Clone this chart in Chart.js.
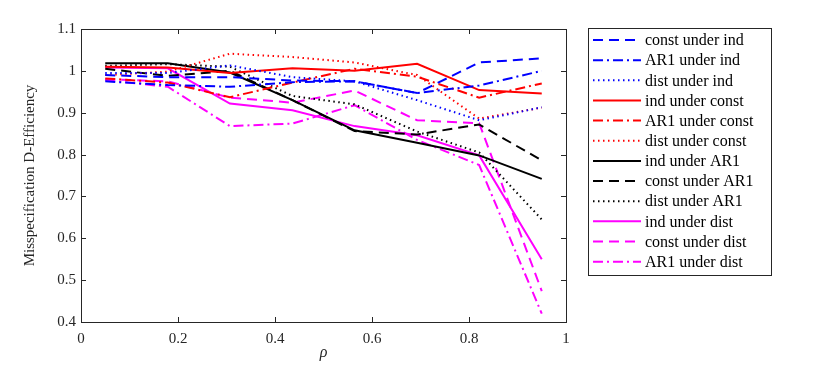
<!DOCTYPE html>
<html><head><meta charset="utf-8">
<script src="https://cdn.jsdelivr.net/npm/chart.js@4/dist/chart.umd.min.js"></script>
<style>html,body{margin:0;padding:0;background:#fff}#wrap{width:830px;height:370px}</style>
</head><body><div id="wrap"><canvas id="c" width="830" height="370"></canvas></div>
<script>
// rho values (x)
const rho = [0.05, 0.179, 0.307, 0.436, 0.564, 0.693, 0.821, 0.95];
// series
const constUnderInd  = [0.990, 0.985, 0.985, 0.977, 0.975, 0.947, 1.020, 1.030];
const ar1UnderInd    = [0.975, 0.966, 0.962, 0.973, 0.975, 0.947, 0.965, 1.000];
const distUnderInd   = [0.995, 0.995, 1.013, 0.985, 0.975, 0.930, 0.882, 0.913];
const indUnderConst  = [1.010, 1.008, 0.995, 1.006, 1.000, 1.017, 0.954, 0.946];
const ar1UnderConst  = [0.982, 0.972, 0.937, 0.972, 1.005, 0.986, 0.936, 0.970];
const distUnderConst = [0.990, 0.998, 1.041, 1.033, 1.020, 0.990, 0.886, 0.912];
const indUnderAR1    = [1.018, 1.018, 0.996, 0.930, 0.858, 0.828, 0.798, 0.742];
const constUnderAR1  = [1.005, 0.988, 1.000, 0.930, 0.856, 0.848, 0.872, 0.786];
const distUnderAR1   = [1.012, 1.016, 1.010, 0.940, 0.920, 0.855, 0.805, 0.645];
const indUnderDist   = [1.008, 1.006, 0.922, 0.906, 0.868, 0.846, 0.798, 0.550];
const constUnderDist = [0.980, 0.975, 0.936, 0.924, 0.953, 0.882, 0.875, 0.474];
const ar1UnderDist   = [0.978, 0.962, 0.868, 0.874, 0.918, 0.835, 0.775, 0.420];
// ticks
const xTicks = [0, 0.2, 0.4, 0.6, 0.8, 1];
const yTicks = [0.4, 0.5, 0.6, 0.7, 0.8, 0.9, 1, 1.1];
const seriesNames = ['const under ind','AR1 under ind','dist under ind','ind under const','AR1 under const','dist under const','ind under AR1','const under AR1','dist under AR1','ind under dist','const under dist','AR1 under dist'];
const seriesValues = [constUnderInd, ar1UnderInd, distUnderInd, indUnderConst, ar1UnderConst, distUnderConst, indUnderAR1, constUnderAR1, distUnderAR1, indUnderDist, constUnderDist, ar1UnderDist];

const BLUE='#0000ff', RED='#ff0000', BLACK='#000000', MAG='#ff00ff';
const DASH=[10,6], DASHDOT=[10,4,2,4], DOT=[1.5,3.5], SOLID=[];
const styles = [
  [BLUE,DASH],[BLUE,DASHDOT],[BLUE,DOT],
  [RED,SOLID],[RED,DASHDOT],[RED,DOT],
  [BLACK,SOLID],[BLACK,DASH],[BLACK,DOT],
  [MAG,SOLID],[MAG,DASH],[MAG,DASHDOT]
];
const FONT = "'Liberation Serif', 'Times New Roman', serif";
const AX = '#262626';

const datasets = seriesNames.map((n,i)=>({
  label: n,
  data: rho.map((x,j)=>({x:x, y:seriesValues[i][j]})),
  borderColor: styles[i][0],
  borderDash: styles[i][1],
  borderWidth: 2,
  pointRadius: 0,
  tension: 0,
  fill: false,
  borderCapStyle: 'butt'
}));

const fmt = v => String(Math.round(v*10)/10);

const boxPlugin = {
  id: 'boxTicks',
  afterDraw(chart){
    const ctx = chart.ctx, a = chart.chartArea;
    const xs = chart.scales.x, ys = chart.scales.y;
    ctx.save();
    ctx.strokeStyle = AX; ctx.lineWidth = 1; ctx.setLineDash([]);
    ctx.strokeRect(Math.round(a.left)+0.5, Math.round(a.top)+0.5, Math.round(a.right-a.left), Math.round(a.bottom-a.top));
    const L = 5;
    ctx.beginPath();
    xTicks.forEach(v=>{
      const px = Math.round(xs.getPixelForValue(v))+0.5;
      ctx.moveTo(px, a.bottom); ctx.lineTo(px, a.bottom-L);
      ctx.moveTo(px, a.top); ctx.lineTo(px, a.top+L);
    });
    yTicks.forEach(v=>{
      const py = Math.round(ys.getPixelForValue(v))+0.5;
      ctx.moveTo(a.left, py); ctx.lineTo(a.left+L, py);
      ctx.moveTo(a.right, py); ctx.lineTo(a.right-L, py);
    });
    ctx.stroke();
    // legend
    const bx=588.5, by=28.5, bw=183, bh=247;
    ctx.fillStyle='#fff'; ctx.fillRect(bx,by,bw,bh);
    ctx.strokeStyle=AX; ctx.lineWidth=1; ctx.strokeRect(bx,by,bw,bh);
    ctx.font = "16px " + FONT; ctx.textBaseline='middle'; ctx.textAlign='left';
    chart.data.datasets.forEach((d,i)=>{
      const y = 40 + i*20.15;
      ctx.save();
      ctx.strokeStyle = d.borderColor; ctx.lineWidth = 2; ctx.setLineDash(d.borderDash); ctx.lineCap='butt';
      ctx.beginPath(); ctx.moveTo(593, y); ctx.lineTo(641, y); ctx.stroke();
      ctx.restore();
      ctx.fillStyle = '#000';
      ctx.fillText(d.label, 645, y+1);
    });
    ctx.restore();
  }
};

new Chart(document.getElementById('c'), {
  type: 'line',
  data: { datasets },
  options: {
    responsive: false, animation: false, devicePixelRatio: 1,
    layout: { padding: { top: 29, right: 264, bottom: 0, left: 0 } },
    plugins: { legend: { display: false }, tooltip: { enabled: false } },
    scales: {
      x: {
        type: 'linear', min: 0, max: 1,
        afterBuildTicks: s => { s.ticks = xTicks.map(v=>({value:v})); },
        afterFit: s => { s.height = 48; },
        grid: { display: false, drawTicks: false },
        border: { display: false },
        ticks: { callback: fmt, font: { family: FONT, size: 15 }, color: AX, padding: 8, maxRotation: 0 },
        title: { display: true, text: 'ρ', font: { family: FONT, size: 16, style: 'italic' }, color: AX, padding: { top: 0, bottom: 8 } }
      },
      y: {
        type: 'linear', min: 0.4, max: 1.1,
        afterBuildTicks: s => { s.ticks = yTicks.map(v=>({value:v})); },
        afterFit: s => { s.width = 81; },
        grid: { display: false, drawTicks: false },
        border: { display: false },
        ticks: { callback: fmt, font: { family: FONT, size: 15 }, color: AX, padding: 5 },
        title: { display: true, text: 'Misspecification D-Efficiency', font: { family: FONT, size: 15 }, color: AX, padding: { top: 21, bottom: 0 } }
      }
    }
  },
  plugins: [boxPlugin]
});
</script></body></html>
